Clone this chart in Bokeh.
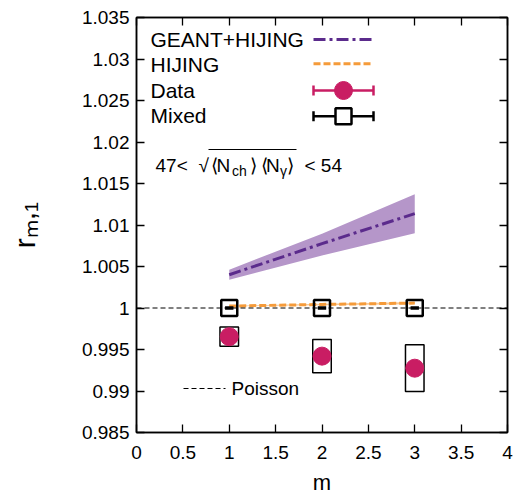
import numpy as np
from bokeh.plotting import figure
from bokeh.models import Range1d, LinearAxis, FixedTicker, Label, Span, CustomJSTickFormatter
from bokeh.embed import file_html
from bokeh.resources import INLINE

# ---------------- data ----------------
m = [1, 2, 3]
data_r = [0.99655, 0.99420, 0.99275]
data_sys = [0.00115, 0.00199, 0.00281]
mixed_r = [1.0, 1.0, 1.0]
mixed_err = [0.00008, 0.00008, 0.00008]
geant_r = [1.00401, 1.00775, 1.01137]
geant_lo = [1.00341, 1.00634, 1.00900]
geant_hi = [1.00462, 1.00896, 1.01370]
hijing_r = [1.00023, 1.00043, 1.00059]
hijing_lo = [1.00019, 1.00034, 1.00045]
hijing_hi = [1.00027, 1.00052, 1.00073]
poisson_level = 1.0

x_ticks = [0, 0.5, 1, 1.5, 2, 2.5, 3, 3.5, 4]
x_tick_labels = ["0", "0.5", "1", "1.5", "2", "2.5", "3", "3.5", "4"]
y_ticks = [0.985, 0.99, 0.995, 1.0, 1.005, 1.01, 1.015, 1.02, 1.025, 1.03, 1.035]
y_tick_labels = ["0.985", "0.99", "0.995", "1", "1.005", "1.01", "1.015", "1.02",
                 "1.025", "1.03", "1.035"]

legend_names = ["GEANT+HIJING", "HIJING", "Data", "Mixed"]
x_title = "m"
y_title = "r\u2098,\u2081"   # r_{m,1}

# ---------------- styles ----------------
FONT = "Liberation Sans"
C_GEANT = "#5b2b8c"
C_GEANT_BAND = "#b596c9"
C_HIJ = "#f59b3a"
C_HIJ_BAND = "#f9c995"
C_DATA = "#c91d63"

XMIN, XMAX, YMIN, YMAX = 0, 4, 0.985, 1.035
# pixel frame of the picture (for placing decorations)
PX_L, PX_R, PX_T, PX_B = 136.0, 507.0, 17.0, 432.0


def dx(px):
    return XMIN + (px - PX_L) / (PX_R - PX_L) * (XMAX - XMIN)


def dy(py):
    return YMIN + (PX_B - py) / (PX_B - PX_T) * (YMAX - YMIN)


def ty(py, fs):
    # baseline correction for bokeh's alphabetic text placement
    return dy(py - 0.37 * fs)


p = figure(width=523, height=498, x_range=Range1d(XMIN, XMAX), y_range=Range1d(YMIN, YMAX),
           output_backend="svg", toolbar_location=None,
           min_border_left=136, min_border_right=16, min_border_top=17, min_border_bottom=66)
p.xgrid.visible = False
p.ygrid.visible = False
p.outline_line_color = "black"
p.outline_line_width = 1.5
p.background_fill_color = "white"
p.border_fill_color = "white"


def fmt(vals, labs):
    return CustomJSTickFormatter(args=dict(vals=vals, labs=labs), code="""
        for (let i = 0; i < vals.length; i++) {
            if (Math.abs(vals[i] - tick) < 1e-9) { return labs[i]; }
        }
        return "";
    """)


def style_axis(ax, ticks, show_labels=True, labs=None):
    ax.ticker = FixedTicker(ticks=ticks)
    ax.major_tick_in = 8
    ax.major_tick_out = 0
    ax.major_tick_line_width = 1.3
    ax.major_tick_line_color = "black"
    ax.minor_tick_line_color = None
    ax.axis_line_width = 1.5
    ax.axis_line_color = "black"
    if show_labels:
        ax.formatter = fmt(ticks, labs)
        ax.major_label_text_font = FONT
        ax.major_label_text_font_size = "19px"
        ax.major_label_text_color = "black"
    else:
        ax.formatter = CustomJSTickFormatter(code='return "";')
        ax.major_label_standoff = 0


style_axis(p.xaxis[0], x_ticks, True, x_tick_labels)
p.xaxis[0].major_label_standoff = 13
p.xaxis[0].axis_label = x_title
p.xaxis[0].axis_label_text_font = FONT
p.xaxis[0].axis_label_text_font_size = "22px"
p.xaxis[0].axis_label_text_font_style = "normal"
p.xaxis[0].axis_label_text_color = "black"
p.xaxis[0].axis_label_standoff = 8

style_axis(p.yaxis[0], y_ticks, True, y_tick_labels)
p.yaxis[0].major_label_standoff = 7
p.yaxis[0].axis_label = y_title
p.yaxis[0].axis_label_text_font = FONT
p.yaxis[0].axis_label_text_font_size = "30px"
p.yaxis[0].axis_label_text_font_style = "normal"
p.yaxis[0].axis_label_text_color = "black"
p.yaxis[0].axis_label_standoff = 38

top_ax = LinearAxis()
style_axis(top_ax, x_ticks, show_labels=False)
p.add_layout(top_ax, "above")
right_ax = LinearAxis()
style_axis(right_ax, y_ticks, show_labels=False)
p.add_layout(right_ax, "right")

# ---------------- Poisson reference ----------------
p.add_layout(Span(location=poisson_level, dimension="width", line_color="black",
                  line_width=1, line_dash="5 3"))

# ---------------- models ----------------
p.varea(x=m, y1=geant_lo, y2=geant_hi, fill_color=C_GEANT_BAND)
p.line(m, geant_r, line_color=C_GEANT, line_width=3, line_dash="12 4 3 4")
p.varea(x=m, y1=hijing_lo, y2=hijing_hi, fill_color=C_HIJ_BAND)
p.line(m, hijing_r, line_color=C_HIJ, line_width=3, line_dash="7 3")

# ---------------- data ----------------
p.rect(x=m, y=data_r, width=0.2, height=[2 * s for s in data_sys],
       fill_color=None, line_color="black", line_width=1.5)
p.scatter(m, data_r, size=18, marker="circle", fill_color=C_DATA, line_color=C_DATA)

mx = np.array(m, dtype=float)
mr = np.array(mixed_r)
me = np.array(mixed_err)
p.segment(x0=mx - 0.045, x1=mx + 0.045, y0=mr + me, y1=mr + me, line_color="black", line_width=2)
p.segment(x0=mx - 0.045, x1=mx + 0.045, y0=mr - me, y1=mr - me, line_color="black", line_width=2)
p.segment(x0=mx, x1=mx, y0=mr - me, y1=mr + me, line_color="black", line_width=2)
p.scatter(m, mixed_r, size=16, marker="square", fill_color=None, line_color="black", line_width=2.5)

# ---------------- legend (manual, text left / sample right) ----------------
leg_text_base = [46.7, 71.7, 97.3, 122.3]
leg_sample_mid = [39.0, 63.3, 90.0, 115.7]
sx0, sx1, sxc = dx(313), dx(373), dx(343)
for name, yb in zip(legend_names, leg_text_base):
    p.add_layout(Label(x=dx(150), y=ty(yb, 21), text=name, text_font=FONT, text_font_size="21px",
                       text_color="black", text_baseline="alphabetic", text_align="left"))

p.line([sx0, sx1], [dy(leg_sample_mid[0])] * 2, line_color=C_GEANT, line_width=3, line_dash="12 4 3 4")
p.line([sx0, sx1], [dy(leg_sample_mid[1])] * 2, line_color=C_HIJ, line_width=3, line_dash="7 3")
cap = dy(0) - dy(5)
for yy, col, mk in [(dy(leg_sample_mid[2]), C_DATA, "circle"), (dy(leg_sample_mid[3]), "black", "square")]:
    p.segment(x0=[sx0, sx0, sx1], x1=[sx1, sx0, sx1], y0=[yy, yy - cap, yy - cap],
              y1=[yy, yy + cap, yy + cap], line_color=col, line_width=2.5)
    if mk == "circle":
        p.scatter([sxc], [yy], size=18, marker="circle", fill_color=col, line_color=col)
    else:
        p.scatter([sxc], [yy], size=16, marker="square", fill_color="white", line_color=col, line_width=2.5)

# ---------------- centrality text ----------------
pieces = [("47<", 155, 171.7, 19), ("\u221a", 198, 171.7, 19),
          ("\u27e8", 210, 171.7, 19), ("N", 216, 171.7, 19),
          ("ch", 231.5, 175.7, 14), ("\u27e9", 249, 171.7, 19),
          ("\u27e8", 260, 171.7, 19), ("N", 265.5, 171.7, 19),
          ("\u03b3", 279.5, 175.7, 14), ("\u27e9", 286.5, 171.7, 19),
          ("< 54", 304, 171.7, 19)]
for t, px, py, fs in pieces:
    p.add_layout(Label(x=dx(px), y=ty(py, fs), text=t, text_font=FONT, text_font_size=f"{fs}px",
                       text_color="black", text_baseline="alphabetic", text_align="left"))
p.line([dx(208), dx(296)], [dy(149)] * 2, line_color="black", line_width=1)

# ---------------- Poisson legend ----------------
p.line([dx(183), dx(225)], [dy(388)] * 2, line_color="black", line_width=1, line_dash="5 3")
p.add_layout(Label(x=dx(231), y=ty(395, 19), text="Poisson", text_font=FONT, text_font_size="19px",
                   text_color="black", text_baseline="alphabetic", text_align="left"))

open("out.html", "w").write(file_html(p, INLINE))
